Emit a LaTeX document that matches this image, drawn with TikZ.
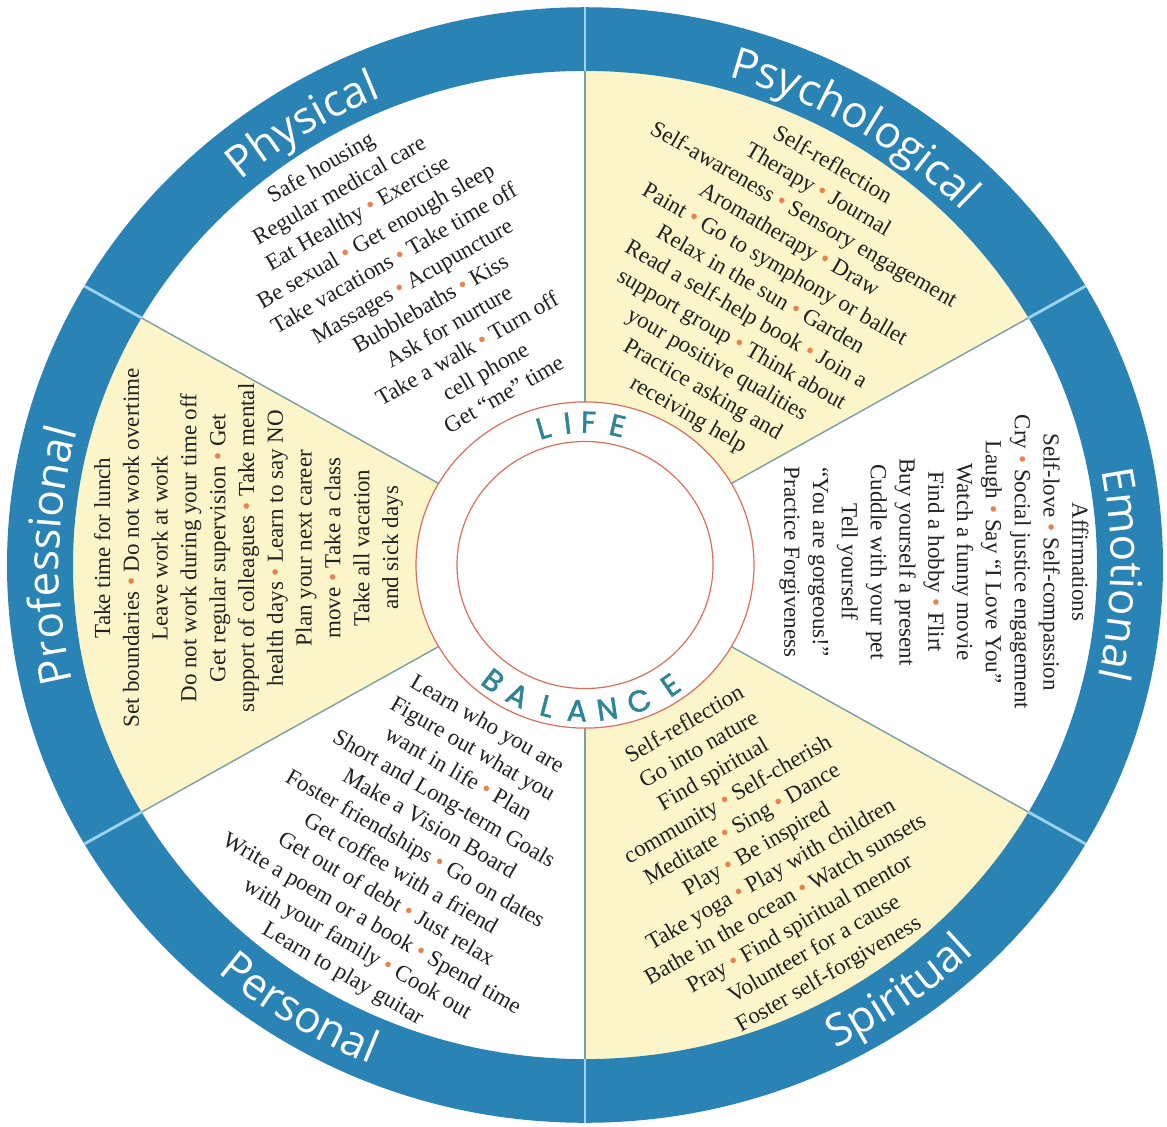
\documentclass[tikz,border=0pt]{standalone}
\usepackage{fontspec}
\setmainfont{Liberation Serif}
\newfontfamily\ringfamily{Open Sans}
\newfontfamily\lbfamily{Poppins}[FakeBold=1.6]
\usetikzlibrary{decorations.text}
\definecolor{ringblue}{HTML}{2A83B5}
\definecolor{sectyellow}{HTML}{FBF5C9}
\definecolor{ringline}{HTML}{9CD4F0}
\definecolor{secline}{HTML}{7A9EA3}
\definecolor{redline}{HTML}{D9705E}
\definecolor{lbteal}{HTML}{2E8596}
\definecolor{bulc}{HTML}{E7834F}
\definecolor{txt}{HTML}{222222}
\newcommand{\bu}{\ {\color{bulc}\textbullet}\ }
\newcommand{\ringlbl}{\ringfamily\fontsize{22}{22}\selectfont}
\newcommand{\shln}[2]{\makebox[0pt]{\hspace*{#1}#2}}
\begin{document}
\begin{tikzpicture}[x=0.5pt, y=0.5pt,
  secttext/.style={align=center, text=txt, inner sep=0pt, font=\fontsize{11.5}{14.4}\selectfont},
  lbletter/.style={text=lbteal, inner sep=0pt, font=\lbfamily\fontsize{15}{15}\selectfont},
  toplabel/.style={decorate, decoration={text along path, text align=center, text color=white, text={|\ringlbl|#1}}},
]
\useasboundingbox (0,0) rectangle (1167,-1126);
\begin{scope}[shift={(585,-565)}, yscale=0.965]
  % sectors
  \foreach \a/\c in {90/white,30/sectyellow,-30/white,-90/sectyellow,-150/white,150/sectyellow}
    \fill[\c] (0,0) -- (\a:578) arc[start angle=\a, end angle=\a+60, radius=578] -- cycle;
  % ring
  \fill[ringblue, even odd rule] (0,0) circle[radius=578] (0,0) circle[radius=512];
  \foreach \a in {30,90,150,210,270,330}
    \draw[ringline, line width=1.4pt] (\a:512) -- (\a:578);
  \foreach \a in {30,90,150,210,270,330}
    \draw[secline, line width=0.7pt] (\a:169) -- (\a:512);
  % centre
  \fill[white] (0,0) circle[radius=169];
  \draw[redline, line width=0.6pt] (0,0) circle[radius=169];
  \draw[redline, line width=0.6pt] (0,0) circle[radius=128];
  % LIFE / BALANCE
  \foreach \ch/\ang [count=\i] in {L/106.4, I/96.8, F/88.6, E/77.3}
    \node[lbletter, rotate=\ang-90] (life\i) at (\ang:148) {\ch};
  \foreach \ch/\ang [count=\i] in {B/232.5, A/243.5, L/255.5, A/267, N/278.5, C/291, E/304.5}
    \node[lbletter, rotate=\ang-270] (bal\i) at (\ang:151) {\ch};
  % ring labels
  \path[toplabel=Physical] (152:526) arc[start angle=152, end angle=92, radius=526];
  \path[toplabel=Psychological] (89:526) arc[start angle=89, end angle=29, radius=526];
  \path[toplabel=Emotional] (29:526) arc[start angle=29, end angle=-31, radius=526];
  \path[toplabel=Professional] (209:526) arc[start angle=209, end angle=149, radius=526];
  \path[toplabel=Spiritual] (-84.5:560) arc[start angle=-84.5, end angle=-24.5, radius=560];
  \path[toplabel=Personal] (208:560) arc[start angle=208, end angle=268, radius=560];
  % sector texts
  \node[secttext, rotate=30] (physical) at (120.4:342) {\shln{-22.5pt}{Safe housing}\\\shln{-18pt}{Regular medical care}\\\shln{-13.5pt}{Eat Healthy\bu Exercise}\\\shln{-9pt}{Be sexual\bu Get enough sleep}\\\shln{-4.5pt}{Take vacations\bu Take time off}\\\shln{0pt}{Massages\bu Acupuncture}\\\shln{4.5pt}{Bubblebaths\bu Kiss}\\\shln{9pt}{Ask for nurture}\\\shln{13.5pt}{Take a walk\bu Turn off}\\\shln{18pt}{cell phone}\\\shln{22.5pt}{Get “me” time}};
  \node[secttext, rotate=-30] (psychological) at (58.4:334) {Self-reflection\\Therapy\bu Journal\\Self-awareness\bu Sensory engagement\\Aromatherapy\bu Draw\\Paint\bu Go to symphony or ballet\\Relax in the sun\bu Garden\\Read a self-help book\bu Join a\\support group\bu Think about\\your positive qualities\\Practice asking and\\receiving help};
  \node[secttext, rotate=-90] (emotional) at (0.5:349) {Affirmations\\Self-love\bu Self-compassion\\Cry\bu Social justice engagement\\Laugh\bu Say “I Love You”\\Watch a funny movie\\Find a hobby\bu Flirt\\Buy yourself a present\\Cuddle with your pet\\Tell yourself\\“You are gorgeous!”\\Practice Forgiveness};
  \node[secttext, rotate=30] (spiritual) at (-59.8:342) {Self-reflection\\Go into nature\\Find spiritual\\community\bu Self-cherish\\Meditate\bu Sing\bu Dance\\Play\bu Be inspired\\Take yoga\bu Play with children\\Bathe in the ocean\bu Watch sunsets\\Pray\bu Find spiritual mentor\\Volunteer for a cause\\Foster self-forgiveness};
  \node[secttext, rotate=-30] (personal) at (240:341) {Learn who you are\\Figure out what you\\want in life\bu Plan\\Short and Long-term Goals\\Make a Vision Board\\Foster friendships\bu Go on dates\\Get coffee with a friend\\Get out of debt\bu Just relax\\Write a poem or a book\bu Spend time\\with your family\bu Cook out\\Learn to play guitar};
  \node[secttext, rotate=90] (professional) at (177:337) {Take time for lunch\\Set boundaries\bu Do not work overtime\\Leave work at work\\Do not work during your time off\\Get regular supervision\bu Get\\support of colleagues\bu Take mental\\health days\bu Learn to say NO\\Plan your next career\\move\bu Take a class\\Take all vacation\\and sick days};
\end{scope}
\end{tikzpicture}
\end{document}
